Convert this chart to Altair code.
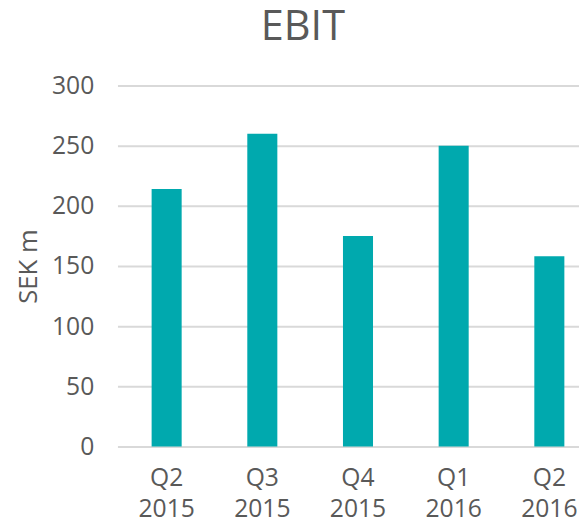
import altair as alt
import pandas as pd

quarters = ["Q2 2015", "Q3 2015", "Q4 2015", "Q1 2016", "Q2 2016"]
ebit = [214, 260, 175, 250, 158]

df = pd.DataFrame({"quarter": quarters, "ebit": ebit})

FONT = "Open Sans"
GREY = "#595959"

chart = alt.Chart(df).mark_bar(color="#00A9AE").encode(
    x=alt.X("quarter:N", sort=quarters, title=None,
            scale=alt.Scale(paddingInner=0.686, paddingOuter=0.255, align=0.7),
            axis=alt.Axis(labelAngle=0, labelExpr="split(datum.label, ' ')",
                          labelFontSize=25, labelColor=GREY, labelFont=FONT,
                          labelLineHeight=31, labelPadding=20, ticks=False,
                          domainColor="#d9d9d9", domainWidth=2)),
    y=alt.Y("ebit:Q", title="SEK m",
            scale=alt.Scale(domain=[0, 300]),
            axis=alt.Axis(values=[0, 50, 100, 150, 200, 250, 300],
                          labelFontSize=25, labelColor=GREY, labelFont=FONT,
                          labelPadding=24, ticks=False, domain=False,
                          gridColor="#d9d9d9", gridWidth=2,
                          titleFontSize=26, titleColor=GREY, titleFont=FONT,
                          titleFontWeight="normal", titlePadding=10)),
).properties(
    width=468, height=366,
    title=alt.TitleParams("EBIT", fontSize=42, color=GREY, font=FONT,
                          fontWeight="normal", anchor="middle", dx=-46, offset=25),
    autosize=alt.AutoSizeParams(type="none"),
    padding={"left": 111, "top": 75, "right": 0, "bottom": 75},
).configure_view(stroke=None)

chart.save("out.html", embed_options={"renderer": "svg", "actions": False})
